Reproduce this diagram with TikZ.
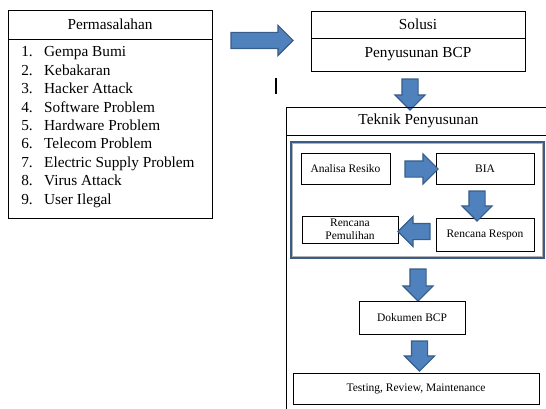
\documentclass[tikz,border=0pt]{standalone}
\usepackage{fontspec}
\setmainfont{Liberation Serif}
\usetikzlibrary{shapes.arrows}
\definecolor{steel}{HTML}{4F81BD}
\definecolor{steeldark}{HTML}{385D8A}
\definecolor{framed}{HTML}{3B5C86}
\tikzset{
  big/.style={font=\fontsize{15.3}{18.4}\selectfont},
  small/.style={font=\fontsize{11.5}{12.5}\selectfont},
  box/.style={rectangle,draw=black,line width=0.8pt,inner sep=0pt,align=center},
  blk/.style={single arrow,draw=steeldark,line width=1.1pt,fill=steel,inner sep=7.5pt,
    single arrow head extend=7pt},
}

\begin{document}
\begin{tikzpicture}[x=1pt,y=-1pt,
  item/.style={big,inner sep=0pt},
  frame/.style={rectangle,draw=framed,line width=2.4pt,inner sep=0pt}]
  \clip (0,0) rectangle (546,409);
  % permasalahan
  \node[box,big,minimum width=204pt,minimum height=29pt] (perm) at (110,24.5) {Permasalahan};
  \node[box,minimum width=204pt,minimum height=179pt] (permlist) at (110,128.5) {};
  \foreach \txt [count=\i] in {Gempa Bumi,Kebakaran,Hacker Attack,Software Problem,
      Hardware Problem,Telecom Problem,Electric Supply Problem,Virus Attack,User Ilegal}{
    \node[item,anchor=base east] (n\i) at (33,38.6+18.4*\i) {\i.};
    \node[item,anchor=base west] (p\i) at (44,38.6+18.4*\i) {\txt};
  }
  \node[blk,minimum height=62pt] (a1) at (258,40.5) {};
  \draw[line width=1.5pt] (276,78) -- (276,94);
  % solusi
  \node[box,big,minimum width=214pt,minimum height=27pt] (sol) at (418,24.5) {Solusi};
  \node[box,big,minimum width=214pt,minimum height=33pt] (susun) at (418,54.5) {Penyusunan BCP};
  \node[blk,shape border rotate=270,minimum height=31pt] (a2) at (410,90.5) {};
  % teknik penyusunan
  \node[box,big,minimum width=265pt,minimum height=28pt] (teknik) at (418.5,121) {Teknik Penyusunan};
  \node[box,minimum width=265pt,minimum height=290pt] (body) at (418.5,280) {};
  \node[frame,minimum width=253pt,minimum height=116pt] (inner) at (417.5,200) {};
  \draw[gray!60,line width=0.5pt] (inner.north west) ++(2.5pt,-2.5pt) rectangle ([shift={(-2.5pt,2.5pt)}]inner.south east);
  \node[box,small,minimum width=89pt,minimum height=31pt] (analisa) at (345.5,168.5) {Analisa Resiko};
  \node[box,small,minimum width=98pt,minimum height=31pt] (bia) at (485,168.5) {BIA};
  \node[box,small,minimum width=98pt,minimum height=33pt] (respon) at (485,234.5) {Rencana Respon};
  \node[box,small,minimum width=96pt,minimum height=27pt] (pulih) at (350,229.5) {Rencana\\Pemulihan};
  \node[blk,minimum height=33pt] (a3) at (417.5,169) {};
  \node[blk,shape border rotate=270,minimum height=30pt] (a4) at (477,202) {};
  \node[blk,shape border rotate=180,minimum height=32pt] (a5) at (418,231.5) {};
  \node[blk,shape border rotate=270,minimum height=32pt] (a6) at (418,281) {};
  \node[box,small,minimum width=106pt,minimum height=33pt] (dok) at (412,317.5) {Dokumen BCP};
  \node[blk,shape border rotate=270,minimum height=30pt] (a7) at (419.5,352) {};
  \node[box,small,minimum width=246pt,minimum height=31pt] (test) at (416,388.5) {Testing, Review, Maintenance};
\end{tikzpicture}
\end{document}
